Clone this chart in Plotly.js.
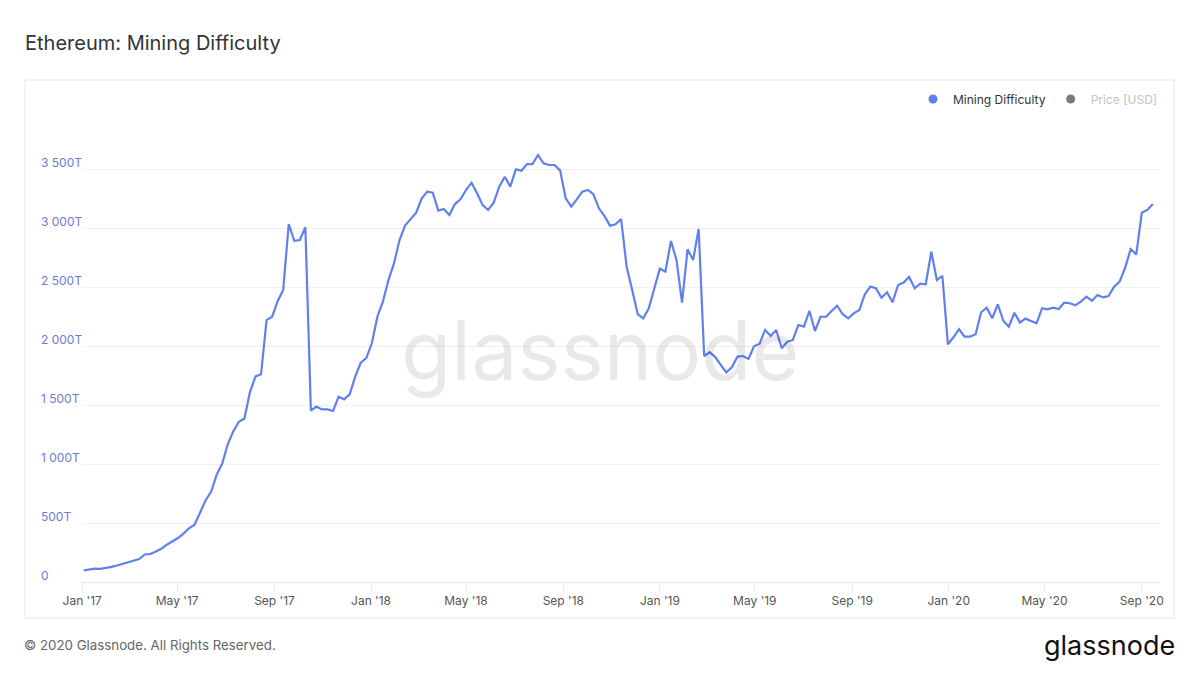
<!DOCTYPE html>
<html>
<head>
<meta charset="utf-8">
<script src="https://cdn.plot.ly/plotly-3.0.1.min.js"></script>
<style>
  html, body { margin: 0; padding: 0; background: #ffffff; }
  #chart { width: 1200px; height: 675px; }
</style>
</head>
<body>
<div id="chart"></div>
<script>
// Weekly series, first observation on 2017-01-03 (one point per week)
const startDate = '2017-01-03';
// Mining difficulty, in T (terahashes)
const difficultyT = [
  98, 108, 113, 111, 118, 128, 140, 154, 167, 179,
  195, 233, 237, 258, 282, 316, 345, 373, 410, 455,
  485, 589, 693, 766, 910, 1004, 1169, 1277, 1358, 1385,
  1610, 1742, 1760, 2220, 2248, 2380, 2475, 3034, 2892, 2898,
  3006, 1452, 1486, 1463, 1463, 1449, 1570, 1548, 1590, 1740,
  1858, 1898, 2023, 2248, 2375, 2559, 2700, 2898, 3020, 3075,
  3130, 3250, 3308, 3299, 3147, 3161, 3110, 3203, 3243, 3322,
  3384, 3294, 3195, 3153, 3215, 3350, 3435, 3350, 3497, 3486,
  3542, 3542, 3619, 3548, 3534, 3534, 3486, 3252, 3181, 3243,
  3308, 3322, 3286, 3167, 3100, 3020, 3031, 3076, 2672, 2475,
  2270, 2235, 2320, 2489, 2655, 2630, 2890, 2729, 2367, 2820,
  2729, 2992, 1915, 1947, 1906, 1839, 1777, 1820, 1910, 1915,
  1890, 1997, 2020, 2136, 2085, 2136, 1981, 2036, 2051, 2178,
  2164, 2297, 2127, 2248, 2248, 2297, 2342, 2269, 2235, 2277,
  2305, 2438, 2503, 2489, 2409, 2455, 2370, 2517, 2537, 2585,
  2489, 2528, 2523, 2799, 2559, 2595, 2014, 2074, 2142, 2079,
  2079, 2099, 2286, 2325, 2235, 2353, 2214, 2164, 2282, 2198,
  2232, 2212, 2192, 2320, 2311, 2325, 2314, 2367, 2362, 2345,
  2376, 2418, 2384, 2432, 2413, 2424, 2503, 2545, 2664, 2822,
  2775, 3130, 3153, 3203
];
const yTickVals = [0, 500, 1000, 1500, 2000, 2500, 3000, 3500, 4000];
const yTickText = ['0', '500T', '1 000T', '1 500T', '2 000T', '2 500T', '3 000T', '3 500T', ''];
const seriesNames = ['Mining Difficulty', 'Price [USD]'];

// weekly dates for the series
const dates = [];
(function () {
  const d0 = new Date(startDate + 'T00:00:00Z');
  for (let i = 0; i < difficultyT.length; i++) {
    const d = new Date(d0.getTime() + i * 7 * 86400000);
    dates.push(d.toISOString().slice(0, 10));
  }
})();

const BLUE = '#6080f0';
const FONT = 'Inter, "Noto Sans", "DejaVu Sans", sans-serif';

const traces = [
  {
    x: dates, y: difficultyT, type: 'scatter', mode: 'lines',
    line: { color: BLUE, width: 2.2 },
    showlegend: false, hoverinfo: 'skip'
  },
  {
    x: [null], y: [null], type: 'scatter', mode: 'markers',
    name: seriesNames[0],
    marker: { color: BLUE, size: 9, symbol: 'circle' }
  },
  {
    x: [null], y: [null], type: 'scatter', mode: 'markers',
    name: '<span style="color:#c4c4c4">' + seriesNames[1] + '</span>',
    marker: { color: '#7a7a7a', size: 9, symbol: 'circle' }
  }
];

// pixel helpers for paper coordinates (plot area: x 37..1160, y 110..582)
const L = 37, R = 1160, T = 110, B = 582;
const px = v => (v - L) / (R - L);
const py = v => (B - v) / (B - T);

const layout = {
  width: 1200, height: 675,
  margin: { l: L, r: 1200 - R, t: T, b: 675 - B },
  paper_bgcolor: '#ffffff', plot_bgcolor: '#ffffff',
  font: { family: FONT, size: 12, color: '#555' },
  title: {
    text: 'Ethereum: Mining Difficulty',
    x: 25 / 1200, xref: 'container', xanchor: 'left',
    y: 1 - 43 / 675, yref: 'container', yanchor: 'middle',
    font: { family: FONT, size: 20, color: '#333' }
  },
  xaxis: {
    type: 'date',
    domain: [px(82), 1],
    range: ['2016-12-31 18:00', '2020-09-24'],
    tick0: '2017-01-01', dtick: 'M4',
    tickformat: "%b '%y",
    ticks: 'outside', ticklen: 8, tickcolor: '#e6e6e6', tickwidth: 1,
    showline: true, linecolor: '#e6e6e6', linewidth: 1,
    showgrid: false, zeroline: false,
    ticklabeloverflow: 'allow',
    tickfont: { family: FONT, size: 12, color: '#555' },
    fixedrange: true
  },
  yaxis: {
    range: [0, 4000],
    anchor: 'free', position: 0,
    tickmode: 'array', tickvals: yTickVals, ticktext: yTickText,
    ticklabelposition: 'inside',
    ticklabeloverflow: 'allow',
    ticklabelshift: -6,
    ticklabelstandoff: 0,
    ticks: '',
    showline: false, zeroline: false,
    showgrid: true, gridcolor: '#f0f0f0', gridwidth: 1,
    tickfont: { family: FONT, size: 12, color: '#6c7bd4' },
    fixedrange: true
  },
  showlegend: true,
  legend: {
    orientation: 'h',
    x: px(1163), xanchor: 'right',
    y: py(99), yanchor: 'middle',
    font: { family: FONT, size: 12, color: '#333' },
    bgcolor: 'rgba(0,0,0,0)',
    itemwidth: 30,
    itemclick: false, itemdoubleclick: false
  },
  shapes: [
    {
      type: 'rect', xref: 'paper', yref: 'paper', layer: 'below',
      x0: px(25), x1: px(1174), y0: py(618), y1: py(80),
      line: { color: '#e6e6e6', width: 1 }, fillcolor: 'rgba(0,0,0,0)'
    }
  ],
  annotations: [
    {
      text: 'glassnode', xref: 'paper', yref: 'paper',
      x: px(600), y: py(350), xanchor: 'center', yanchor: 'middle',
      showarrow: false,
      font: { family: FONT, size: 82, color: 'rgba(0,0,0,0.085)' }
    },
    {
      text: '© 2020 Glassnode. All Rights Reserved.', xref: 'paper', yref: 'paper',
      x: px(22), y: py(645), xanchor: 'left', yanchor: 'middle',
      showarrow: false,
      font: { family: FONT, size: 13.3, color: '#666' }
    },
    {
      text: 'glassnode', xref: 'paper', yref: 'paper',
      x: px(1177), y: py(645), xanchor: 'right', yanchor: 'middle',
      showarrow: false,
      font: { family: FONT, size: 27, color: '#111' }
    }
  ]
};

Plotly.newPlot('chart', traces, layout, { displayModeBar: false, staticPlot: true });
</script>
</body>
</html>
